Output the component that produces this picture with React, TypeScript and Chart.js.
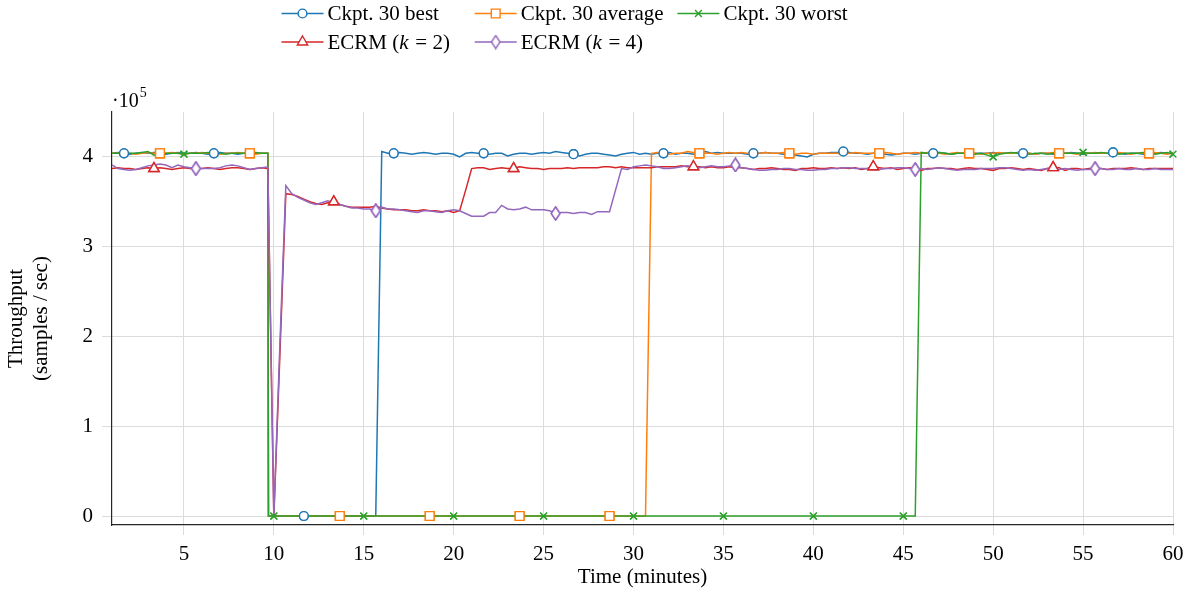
import React, { useEffect, useRef } from 'react';
import { Chart, registerables } from 'chart.js';
import { drawPoint } from 'chart.js/helpers';

Chart.register(...registerables);

const FONT = '"Liberation Serif", "Times New Roman", serif';

// x axis
const xTickValues = [5, 10, 15, 20, 25, 30, 35, 40, 45, 50, 55, 60];
const xMin = 1;
const xMax = 60;
// y axis (samples / sec)
const yTickValues = [0, 100000, 200000, 300000, 400000];
const yMin = -10000;
const yMax = 450000;
const yExponent = '5';

// sampling grid (minutes)
const sampleStartMin = 1;
const sampleStepMin = 1 / 3;
// checkpoint runs fail just before minute 10 (vertical drop)
const ckptFailTime = 9.7;

// throughput values in thousands of samples/sec, one per sample
const bestValues = [
  404, 405, 404, 403, 404, 405, 404, 405, 404, 403, 404, 405, 404, 404, 405,
  404, 403, 404, 405, 404, 404, 403, 404, 405, 404, 404, 404, 0, 0, 0,
  0, 0, 0, 0, 0, 0, 0, 0, 0, 0, 0, 0, 0, 0, 0,
  406, 404, 404, 405, 404, 403, 404, 405, 404, 403, 404, 404, 403, 400, 404,
  405, 404, 404, 403, 404, 404, 401, 403, 404, 404, 403, 404, 405, 404, 406,
  405, 404, 403, 401, 403, 404, 404, 403, 402, 401, 403, 404, 405, 403, 404,
  403, 404, 404, 405, 403, 404, 404, 403, 404, 406, 404, 405, 404, 404, 404,
  404, 403, 404, 404, 405, 404, 404, 403, 404, 402, 401, 400, 403, 404, 404,
  405, 405, 406, 405, 404, 404, 403, 404, 404, 403, 402, 403, 404, 404, 403,
  404, 404, 404, 405, 404, 403, 404, 404, 403, 404, 404, 404, 405, 404, 404,
  404, 405, 404, 404, 403, 404, 404, 403, 404, 404, 405, 404, 403, 404, 404,
  404, 404, 405, 404, 403, 404, 404, 403, 404, 404, 405, 404, 404,
];

const averageValues = [
  404, 404, 405, 404, 403, 404, 405, 404, 404, 404, 405, 404, 403, 404, 404,
  405, 404, 404, 403, 404, 404, 405, 404, 404, 403, 404, 404, 0, 0, 0,
  0, 0, 0, 0, 0, 0, 0, 0, 0, 0, 0, 0, 0, 0, 0,
  0, 0, 0, 0, 0, 0, 0, 0, 0, 0, 0, 0, 0, 0, 0,
  0, 0, 0, 0, 0, 0, 0, 0, 0, 0, 0, 0, 0, 0, 0,
  0, 0, 0, 0, 0, 0, 0, 0, 0, 0, 0, 0, 0, 0, 0,
  404, 405, 404, 403, 404, 404, 406, 405, 404, 404, 404, 403, 404, 405, 404,
  405, 404, 403, 404, 405, 404, 404, 405, 404, 403, 404, 404, 403, 404, 404,
  404, 404, 403, 404, 405, 404, 404, 404, 404, 405, 404, 403, 404, 404, 405,
  404, 405, 404, 404, 403, 404, 405, 404, 404, 404, 403, 404, 404, 405, 404,
  404, 404, 405, 404, 403, 404, 404, 405, 404, 404, 404, 403, 404, 404, 405,
  404, 404, 404, 405, 404, 403, 404, 404, 404, 405, 404, 403, 404,
];

const worstValues = [
  404, 404, 403, 404, 404, 405, 406, 402, 404, 404, 404, 404, 403, 404, 404,
  404, 405, 404, 404, 403, 404, 404, 404, 404, 405, 404, 404, 0, 0, 0,
  0, 0, 0, 0, 0, 0, 0, 0, 0, 0, 0, 0, 0, 0, 0,
  0, 0, 0, 0, 0, 0, 0, 0, 0, 0, 0, 0, 0, 0, 0,
  0, 0, 0, 0, 0, 0, 0, 0, 0, 0, 0, 0, 0, 0, 0,
  0, 0, 0, 0, 0, 0, 0, 0, 0, 0, 0, 0, 0, 0, 0,
  0, 0, 0, 0, 0, 0, 0, 0, 0, 0, 0, 0, 0, 0, 0,
  0, 0, 0, 0, 0, 0, 0, 0, 0, 0, 0, 0, 0, 0, 0,
  0, 0, 0, 0, 0, 0, 0, 0, 0, 0, 0, 0, 0, 0, 0,
  405, 404, 404, 405, 404, 403, 404, 404, 404, 403, 404, 402, 400, 403, 404,
  405, 404, 404, 403, 404, 404, 403, 404, 405, 404, 404, 404, 405, 404, 404,
  405, 404, 404, 403, 404, 404, 404, 405, 404, 403, 404, 405, 403,
];

const ecrm2Values = [
  387, 388, 387, 387, 386, 387, 388, 387, 388, 387, 386, 387, 388, 387, 387,
  387, 388, 387, 386, 387, 388, 388, 387, 386, 387, 388, 387, 0, 178, 359,
  358, 356, 353, 350, 348, 347, 349, 350, 347, 345, 344, 344, 344, 344, 345,
  343, 342, 341, 341, 341, 340, 340, 341, 340, 340, 339, 340, 338, 340, 363,
  387, 388, 388, 386, 387, 388, 387, 387, 389, 388, 387, 387, 386, 387, 387,
  387, 388, 387, 388, 388, 388, 388, 389, 389, 388, 389, 388, 388, 388, 388,
  388, 389, 389, 389, 389, 390, 389, 389, 389, 388, 389, 388, 388, 389, 388,
  388, 387, 386, 387, 387, 388, 387, 386, 386, 385, 387, 387, 388, 387, 387,
  388, 387, 388, 387, 388, 386, 387, 389, 388, 387, 388, 386, 387, 388, 387,
  385, 387, 387, 388, 387, 387, 386, 387, 388, 387, 387, 386, 385, 387, 387,
  388, 387, 386, 387, 386, 385, 387, 388, 388, 385, 387, 387, 386, 387, 387,
  387, 386, 387, 387, 387, 388, 387, 386, 387, 387, 387, 387, 387,
];

const ecrm4Values = [
  391, 387, 386, 385, 386, 388, 390, 391, 392, 391, 388, 391, 389, 388, 387,
  387, 387, 387, 388, 390, 391, 390, 388, 386, 387, 388, 389, 0, 190, 368,
  359, 355, 352, 349, 347, 349, 351, 349, 347, 345, 343, 343, 342, 342, 340,
  344, 342, 342, 341, 340, 339, 338, 340, 340, 339, 338, 340, 341, 340, 337,
  334, 334, 334, 338, 338, 346, 342, 341, 342, 344, 341, 341, 341, 340, 337,
  338, 338, 337, 338, 338, 336, 339, 339, 339, 363, 387, 386, 389, 390, 391,
  390, 389, 387, 387, 388, 389, 390, 389, 388, 389, 390, 389, 389, 390, 391,
  388, 387, 386, 385, 385, 386, 386, 387, 387, 386, 386, 385, 385, 386, 386,
  387, 387, 388, 388, 387, 387, 387, 386, 386, 387, 387, 388, 388, 387, 386,
  387, 386, 387, 388, 387, 386, 385, 386, 386, 386, 387, 387, 387, 388, 388,
  387, 386, 385, 386, 385, 386, 387, 387, 386, 387, 386, 385, 386, 386, 387,
  387, 386, 386, 387, 386, 386, 387, 386, 386, 387, 386, 386, 386,
];

const seriesLabels = ['Ckpt. 30 best', 'Ckpt. 30 average', 'Ckpt. 30 worst', 'ECRM (k = 2)', 'ECRM (k = 4)'];
const seriesColors = ['#1f77b4', '#ff7f0e', '#2ca02c', '#d62728', '#9467bd'];
const seriesValues = [bestValues, averageValues, worstValues, ecrm2Values, ecrm4Values];
const seriesFailDrop = [true, true, true, false, false];
// marker every N samples, starting at sample index
const markerStart = [2, 8, 12, 7, 14];
const markerEvery = [15, 15, 15, 30, 30];
const markerStyles = ['circle', 'rect', 'crossRot', 'triangle', 'diamond'];
const markerRadius = [4.4, 6.2, 4.8, 6, 6];

function makeDiamond(color: string) {
  const w = 11;
  const h = 15;
  const c = document.createElement('canvas');
  c.width = w;
  c.height = h;
  const g = c.getContext('2d')!;
  g.beginPath();
  g.moveTo(w / 2, 1);
  g.lineTo(w - 1.2, h / 2);
  g.lineTo(w / 2, h - 1);
  g.lineTo(1.2, h / 2);
  g.closePath();
  g.fillStyle = '#ffffff';
  g.fill();
  g.strokeStyle = color;
  g.lineWidth = 1.4;
  g.stroke();
  return c;
}

function buildPoints(values: number[], idx: number) {
  const pts = values.map((v, i) => ({
    x: sampleStartMin + i * sampleStepMin,
    y: v * 1000,
    m: i >= markerStart[idx] && (i - markerStart[idx]) % markerEvery[idx] === 0,
  }));
  if (seriesFailDrop[idx]) {
    pts.push({ x: ckptFailTime, y: 0, m: false });
    pts.sort((a, b) => a.x - b.x);
  }
  return pts;
}

// legend layout (pixel positions of the legend block)
const legendCols = [281.5, 474.7, 677.4];
const legendRows = [13.5, 42];
const legendLineLen = 42;
const legendTextGap = 46;

export default function App() {
  const ref = useRef<HTMLCanvasElement | null>(null);

  useEffect(() => {
    const canvas = ref.current;
    if (!canvas) return;
    const styles: any[] = markerStyles.map((s, i) => (s === 'diamond' ? makeDiamond(seriesColors[i]) : s));

    const datasets = seriesValues.map((vals, i) => ({
      label: seriesLabels[i],
      data: buildPoints(vals, i),
      borderColor: seriesColors[i],
      backgroundColor: seriesColors[i],
      borderWidth: 1.5,
      pointStyle: styles[i],
      pointRadius: (ctx: any) => (ctx.raw && ctx.raw.m ? markerRadius[i] : 0),
      pointHoverRadius: 0,
      pointBackgroundColor: '#ffffff',
      pointBorderColor: seriesColors[i],
      pointBorderWidth: 1.4,
      tension: 0,
      fill: false,
      order: seriesValues.length - i,
    }));

    const overlay = {
      id: 'overlay',
      afterDatasetsDraw(chart: any) {
        const ctx = chart.ctx;
        const metas = chart.getSortedVisibleDatasetMetas();
        for (let k = metas.length - 1; k >= 0; k--) {
          metas[k].data.forEach((el: any) => {
            if (el.options && el.options.radius > 0) el.draw(ctx);
          });
        }
      },
      afterDraw(chart: any) {
        const ctx = chart.ctx;
        ctx.save();
        // legend
        seriesLabels.forEach((label, i) => {
          const col = i < 3 ? i : i - 3;
          const row = i < 3 ? 0 : 1;
          const x0 = legendCols[col];
          const y = legendRows[row];
          ctx.strokeStyle = seriesColors[i];
          ctx.lineWidth = 1.5;
          ctx.beginPath();
          ctx.moveTo(x0, y);
          ctx.lineTo(x0 + legendLineLen, y);
          ctx.stroke();
          ctx.fillStyle = '#ffffff';
          ctx.strokeStyle = seriesColors[i];
          ctx.lineWidth = 1.4;
          drawPoint(ctx, { pointStyle: styles[i], radius: markerRadius[i], borderWidth: 1.4, rotation: 0 } as any, x0 + legendLineLen / 2, y);
          ctx.fillStyle = '#000000';
          ctx.textBaseline = 'alphabetic';
          ctx.textAlign = 'left';
          let tx = x0 + legendTextGap;
          const ty = y + 6.5;
          const m = label.match(/^(.*\()k( = \d\))$/);
          if (m) {
            const parts: [string, boolean][] = [[m[1], false], ['k', true], [m[2].replace(' = ', ' = '), false]];
            parts.forEach(([t, it]) => {
              ctx.font = `${it ? 'italic ' : ''}21px ${FONT}`;
              ctx.fillText(t, tx, ty);
              tx += ctx.measureText(t).width + (it ? 1.5 : 0);
            });
          } else {
            ctx.font = `21px ${FONT}`;
            ctx.fillText(label, tx, ty);
          }
        });
        // axis multiplier
        const left = chart.chartArea.left;
        ctx.fillStyle = '#000000';
        ctx.font = `20px ${FONT}`;
        ctx.fillText('·10', left, 107);
        const w = ctx.measureText('·10').width;
        ctx.font = `14px ${FONT}`;
        ctx.fillText(yExponent, left + w + 1, 97);
        ctx.restore();
      },
    };

    const chart = new Chart(canvas, {
      type: 'line',
      data: { datasets: datasets as any },
      options: {
        animation: false,
        responsive: true,
        maintainAspectRatio: false,
        events: [],
        layout: { padding: { top: 112, right: 20, bottom: 0, left: 0 } },
        plugins: { legend: { display: false }, tooltip: { enabled: false } },
        scales: {
          x: {
            type: 'linear',
            min: xMin,
            max: xMax,
            afterBuildTicks: (s: any) => {
              s.ticks = xTickValues.map((v) => ({ value: v }));
            },
            afterFit: (s: any) => {
              s.height = 67;
            },
            grid: { color: '#dcdcdc', lineWidth: 1, tickLength: 10, drawTicks: true },
            border: { display: true, color: '#262626', width: 1.2 },
            ticks: {
              font: { family: FONT, size: 21 },
              color: '#000000',
              padding: 7,
              maxRotation: 0,
              autoSkip: false,
              callback: (v: any) => String(v),
            },
            title: {
              display: true,
              text: 'Time (minutes)',
              font: { family: FONT, size: 21 },
              color: '#000000',
              padding: { top: 0, bottom: 2 },
            },
          },
          y: {
            type: 'linear',
            min: yMin,
            max: yMax,
            afterBuildTicks: (s: any) => {
              s.ticks = yTickValues.map((v) => ({ value: v }));
            },
            afterFit: (s: any) => {
              s.width = 112;
            },
            grid: { color: '#dcdcdc', lineWidth: 1, tickLength: 10, drawTicks: true },
            border: { display: true, color: '#262626', width: 1.2 },
            ticks: {
              font: { family: FONT, size: 21 },
              color: '#000000',
              padding: 9,
              callback: (v: any) => String(Number(v) / 100000),
            },
            title: {
              display: true,
              text: ['Throughput', '(samples / sec)'],
              font: { family: FONT, size: 21 },
              color: '#000000',
              padding: { top: 4, bottom: 0 },
            },
          },
        },
      },
      plugins: [overlay],
    } as any);

    return () => chart.destroy();
  }, []);

  return (
    <div style={{ position: 'absolute', left: 0, top: 0, width: 1193, height: 592 }}>
      <canvas ref={ref} />
    </div>
  );
}
